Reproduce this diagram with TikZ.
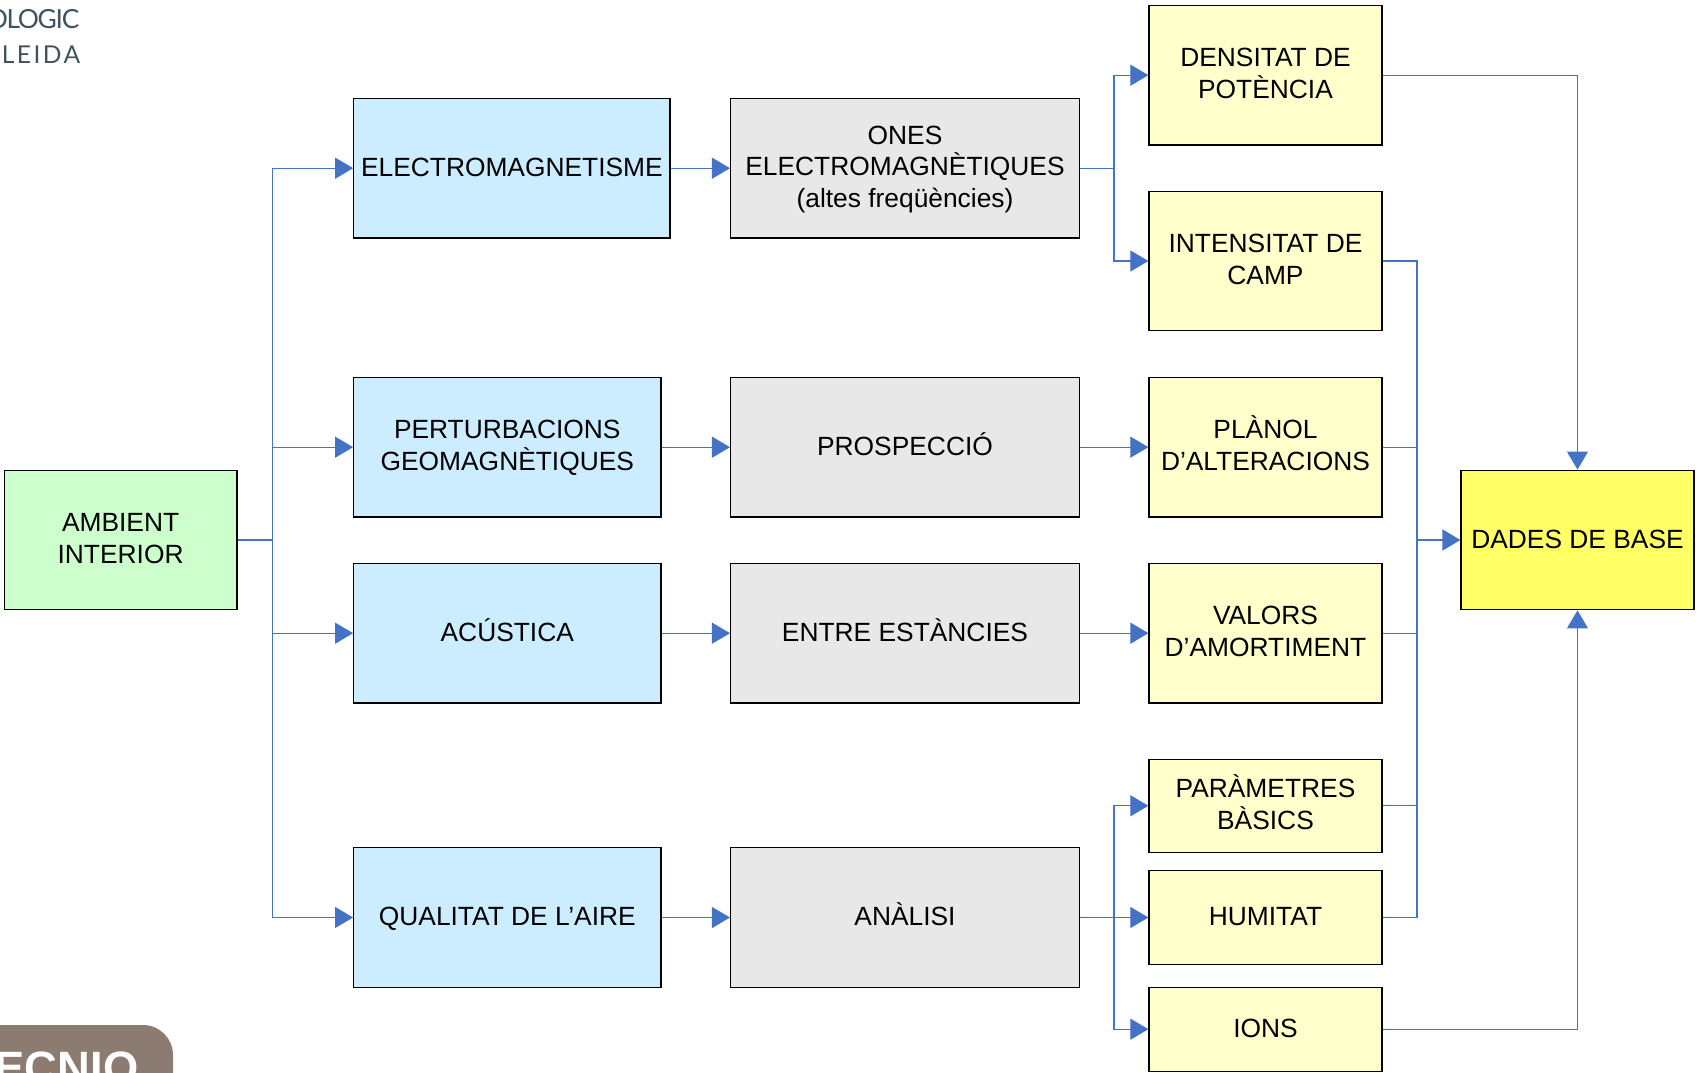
\documentclass[tikz,border=0pt]{standalone}
\usepackage{fontspec}
\setmainfont{Liberation Sans}
\newfontfamily\logofont[LetterSpace=-5]{Lato}
\newfontfamily\logowide[LetterSpace=10]{Lato}
\usepackage{tikz}
\usetikzlibrary{arrows.meta}
\definecolor{linkblue}{HTML}{4472C4}
\definecolor{boxgreen}{HTML}{CCFFCC}
\definecolor{boxblue}{HTML}{CCECFF}
\definecolor{boxgrey}{HTML}{E8E8E8}
\definecolor{boxcream}{HTML}{FFFFCC}
\definecolor{boxyellow}{HTML}{FFFF66}
\definecolor{logobrown}{HTML}{8C7B70}
\definecolor{logoslate}{HTML}{3F545E}
\newcommand{\topline}{\vphantom{À}}
\tikzset{
	box/.style={draw=black,line width=0.35pt,align=center,inner sep=0pt,font=\fontsize{7.5}{9}\selectfont,
		execute at begin node={\rule{0pt}{7pt}},execute at end node={\rule[-2.2pt]{0pt}{2.2pt}}},
	ambient/.style={box,fill=boxgreen,minimum width=2.327cm,minimum height=1.396cm},
	theme/.style={box,fill=boxblue,minimum width=3.072cm,minimum height=1.396cm},
	method/.style={box,fill=boxgrey,minimum width=3.488cm,minimum height=1.396cm},
	result/.style={box,fill=boxcream,minimum width=2.33cm,minimum height=1.396cm},
	final/.style={box,fill=boxyellow,minimum width=2.33cm,minimum height=1.396cm},
	link/.style={draw=linkblue,line width=0.3pt},
	linkarrow/.style={link,-{Triangle[length=0.18cm,width=0.21cm]}},
}
\begin{document}
\begin{tikzpicture}
		\useasboundingbox (0,0) rectangle (16.96,10.73);
		
		\fill[logobrown,rounded corners=0.3cm] (-1,-1) rectangle (1.73,0.48);
		\node[anchor=base east,inner sep=0pt,text=white,font=\fontsize{12.9}{12.9}\selectfont\bfseries] (tecnio) at (1.39,-0.10) {ECNIO};
		\node[anchor=base east,inner sep=0pt,text=logoslate,font=\fontsize{7.5}{7.5}\logofont] (logoa) at (0.80,10.44) {OLOGIC};
		\node[anchor=base east,inner sep=0pt,text=logoslate,font=\fontsize{7}{7}\logowide] (logob) at (0.81,10.09) {LLEIDA};
		
		\node[ambient] (amb) at (1.206,5.33) {\topline AMBIENT\\INTERIOR};
		
		\node[theme,minimum width=3.163cm] (elec) at (5.119,9.048) {ELECTROMAGNETISME};
		\node[theme] (pert) at (5.073,6.258) {\topline PERTURBACIONS\\GEOMAGNÈTIQUES};
		\node[theme] (acu) at (5.073,4.398) {ACÚSTICA};
		\node[theme] (qual) at (5.073,1.555) {QUALITAT DE L’AIRE};
		
		\node[method] (ones) at (9.05,9.048) {\topline ONES\\ELECTROMAGNÈTIQUES\\(altes freqüències)};
		\node[method] (pros) at (9.05,6.258) {PROSPECCIÓ};
		\node[method] (entre) at (9.05,4.398) {ENTRE ESTÀNCIES};
		\node[method] (anal) at (9.05,1.555) {ANÀLISI};
		
		\node[result] (dens) at (12.655,9.978) {\topline DENSITAT DE\\POTÈNCIA};
		\node[result] (inten) at (12.655,8.12) {\topline INTENSITAT DE\\CAMP};
		\node[result] (plan) at (12.655,6.258) {PLÀNOL\\D’ALTERACIONS};
		\node[result] (valors) at (12.655,4.398) {\topline VALORS\\D’AMORTIMENT};
		\node[result,minimum height=0.93cm] (param) at (12.655,2.672) {PARÀMETRES\\BÀSICS};
		\node[result,minimum height=0.936cm] (humi) at (12.655,1.555) {HUMITAT};
		\node[result,minimum height=0.84cm] (ions) at (12.655,0.438) {IONS};
		
		\node[final] (dades) at (15.775,5.33) {DADES DE BASE};
		
		\coordinate (busamb) at (2.726,5.33);
		\coordinate (busones) at (11.14,9.048);
		\coordinate (busanal) at (11.14,1.555);
		\coordinate (busdades) at (14.17,5.33);
		
		\draw[link,line width=0.5pt] (amb)--(busamb);
		\draw[linkarrow] (busamb) |- (elec);
		\draw[linkarrow] (busamb) |- (pert);
		\draw[linkarrow] (busamb) |- (acu);
		\draw[linkarrow] (busamb) |- (qual);
		
		\draw[linkarrow] (elec)--(ones);
		\draw[linkarrow] (pert)--(pros);
		\draw[linkarrow] (acu)--(entre);
		\draw[linkarrow] (qual)--(anal);
		
		\draw[link] (ones)--(busones);
		\draw[linkarrow] (busones) |- (dens);
		\draw[linkarrow] (busones) |- (inten);
		\draw[linkarrow] (pros)--(plan);
		\draw[linkarrow] (entre)--(valors);
		\draw[linkarrow] (anal)--(humi);
		\draw[linkarrow] (busanal) |- (param);
		\draw[linkarrow] (busanal) |- (ions);
		
		\draw[linkarrow] (dens) -| (dades);
		\draw[linkarrow] (ions) -| (dades);
		\draw[link] (inten) -| (busdades);
		\draw[link] (humi) -| (busdades);
		\draw[link] (plan) -| (busdades);
		\draw[link] (valors) -| (busdades);
		\draw[link] (param) -| (busdades);
		\draw[linkarrow,line width=0.5pt] (busdades)--(dades);
	\end{tikzpicture}
\end{document}
